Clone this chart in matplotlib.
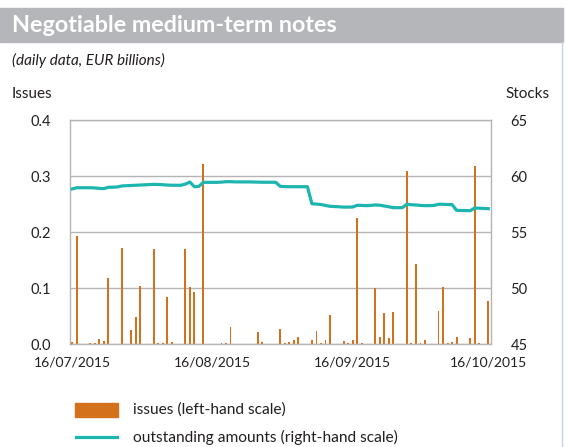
import numpy as np
import pandas as pd
import matplotlib
matplotlib.use("Agg")
import matplotlib.pyplot as plt
import matplotlib.dates as mdates
from matplotlib.patches import Rectangle
from matplotlib.lines import Line2D

plt.rcParams['font.family'] = ['Lato', 'DejaVu Sans']

# calendar days covered by the chart
days = pd.date_range("2015-07-16", "2015-10-16", freq="D")

# daily gross issues, EUR billions (zero on weekends / no issuance)
issues = [
    0.005, 0.193, 0, 0, 0.002, 0.002, 0.009, 0.006, 0.119, 0, 0,
    0.172, 0, 0.026, 0.049, 0.104, 0, 0, 0.171, 0.002, 0.002, 0.085,
    0.004, 0, 0, 0.171, 0.102, 0.093, 0, 0.322, 0, 0, 0, 0.002,
    0.002, 0.031, 0, 0, 0, 0, 0, 0.022, 0.004, 0.001, 0, 0,
    0.027, 0.002, 0.004, 0.008, 0.013, 0, 0, 0.008, 0.023, 0.002, 0.008,
    0.052, 0, 0, 0.006, 0.002, 0.008, 0.226, 0.002, 0, 0, 0.101,
    0.013, 0.056, 0.011, 0.058, 0, 0, 0.309, 0.002, 0.143, 0.002, 0.008,
    0, 0, 0.059, 0.102, 0.002, 0.004, 0.013, 0, 0, 0.011, 0.318,
    0.002, 0, 0.077,
]

# outstanding amounts, EUR billions
stocks = [
    58.87, 58.98, 58.98, 58.98, 58.98, 58.96, 58.92, 58.90, 59.02, 59.03,
    59.05, 59.14, 59.16, 59.18, 59.20, 59.22, 59.24, 59.26, 59.28, 59.27,
    59.25, 59.22, 59.20, 59.20, 59.20, 59.30, 59.49, 59.07, 59.10, 59.46,
    59.46, 59.46, 59.46, 59.48, 59.52, 59.52, 59.50, 59.50, 59.50, 59.50,
    59.49, 59.48, 59.47, 59.47, 59.47, 59.46, 59.10, 59.08, 59.07, 59.07,
    59.07, 59.07, 59.07, 57.55, 57.52, 57.48, 57.40, 57.32, 57.30, 57.28,
    57.25, 57.25, 57.26, 57.41, 57.40, 57.38, 57.40, 57.44, 57.42, 57.35,
    57.28, 57.20, 57.20, 57.20, 57.50, 57.46, 57.44, 57.40, 57.38, 57.38,
    57.40, 57.50, 57.50, 57.48, 57.47, 56.96, 56.95, 56.94, 56.93, 57.17,
    57.15, 57.13, 57.11,
]

tick_dates = ["2015-07-16", "2015-08-16", "2015-09-16", "2015-10-16"]
tick_labels = ["16/07/2015", "16/08/2015", "16/09/2015", "16/10/2015"]

bar_color = "#D4711C"
line_color = "#1DB5AF"
grid_color = "#B4B4B4"
text_color = "#231F20"

fig = plt.figure(figsize=(5.66, 4.47), dpi=100)

# header band
fig.patches.append(Rectangle((0, 1 - 42 / 447), 563 / 566, 34 / 447,
                             transform=fig.transFigure, color="#B5B6B9", zorder=0))
fig.lines.append(Line2D([561.5 / 566, 561.5 / 566], [0, 1 - 42 / 447],
                        transform=fig.transFigure, color="#C9D2DE", lw=1))
fig.text(12 / 566, 1 - 25 / 447, "Negotiable medium-term notes", color="white",
         fontsize=16.8, fontweight="bold", va="center", ha="left")
fig.text(12 / 566, 1 - 60 / 447, "(daily data, EUR billions)", color=text_color,
         fontsize=11, style="italic", va="center", ha="left")
fig.text(12 / 566, 1 - 94 / 447, "Issues", color=text_color, fontsize=11,
         va="center", ha="left")
fig.text(505 / 566, 1 - 94 / 447, "Stocks", color=text_color, fontsize=11,
         va="center", ha="left")

ax = fig.add_axes([70 / 566, 1 - 344.3 / 447, 421 / 566, 224 / 447])
x = mdates.date2num(days)
ax.bar(x, issues, width=0.42, color=bar_color, zorder=2)
ax.set_ylim(0, 0.4)
ax.set_yticks([0.0, 0.1, 0.2, 0.3, 0.4])
ax.set_yticklabels(["0.0", "0.1", "0.2", "0.3", "0.4"])
ax.set_xlim(x[0] - 0.5, x[-1] + 0.6)
ax.set_xticks(mdates.date2num(pd.to_datetime(tick_dates)))
ax.set_xticklabels(tick_labels)
ax.tick_params(axis="both", length=0, labelsize=10.5, colors=text_color)
ax.tick_params(axis="x", labelsize=10, pad=9)
ax.tick_params(axis="y", pad=14)
ax.grid(axis="y", color=grid_color, lw=1)
ax.set_axisbelow(True)
for s in ax.spines.values():
    s.set_color(grid_color)
    s.set_linewidth(1)

ax2 = ax.twinx()
ax2.plot(x, stocks, color=line_color, lw=2.3, zorder=3)
ax2.set_ylim(45, 65)
ax2.set_yticks([45, 50, 55, 60, 65])
ax2.tick_params(axis="y", length=0, labelsize=10.5, colors=text_color, pad=14)
for s in ax2.spines.values():
    s.set_visible(False)

# legend
fig.patches.append(Rectangle((75 / 566, 1 - 417 / 447), 43 / 566, 14.5 / 447,
                             transform=fig.transFigure, color=bar_color))
fig.lines.append(Line2D([76 / 566, 117 / 566], [1 - 437 / 447, 1 - 437 / 447],
                        transform=fig.transFigure, color=line_color, lw=2.3))
fig.text(133 / 566, 1 - 410 / 447, "issues (left-hand scale)", color=text_color,
         fontsize=11.2, va="center", ha="left")
fig.text(133 / 566, 1 - 437 / 447, "outstanding amounts (right-hand scale)",
         color=text_color, fontsize=11.2, va="center", ha="left")

fig.savefig("out.png", dpi=100)
